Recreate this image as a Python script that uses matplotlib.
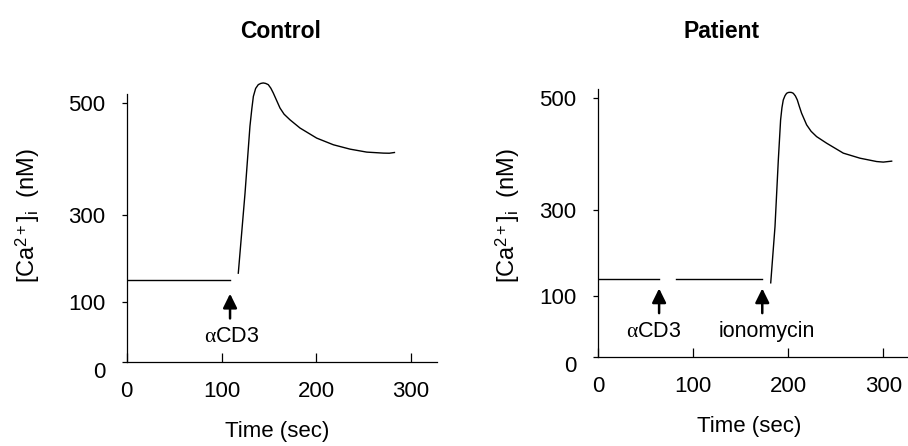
import numpy as np, matplotlib; matplotlib.use('Agg'); import matplotlib.pyplot as plt
from matplotlib.transforms import ScaledTranslation

plt.rcParams['font.family'] = ['Liberation Sans', 'DejaVu Sans']
plt.rcParams['mathtext.fontset'] = 'custom'
plt.rcParams['mathtext.rm'] = 'Liberation Sans'
plt.rcParams['mathtext.it'] = 'Liberation Serif'

# --- data (sec, nM) ---
ctl_base_t = [0, 109]
ctl_base_v = [150.7, 150.7]
ctl_t = [117.7, 124.8, 130.0, 132.0, 133.6, 136.0, 138.8, 141.5, 144.0, 146.5, 149.3, 152.0,
         154.6, 158.0, 161.7, 166.0, 172.2, 182.8, 200.4, 218.0, 235.6, 253.2, 270.8, 277.0, 282.4]
ctl_v = [165.5, 338.9, 458.6, 490.0, 511.8, 526.0, 532.8, 535.0, 535.8, 535.0, 532.8, 526.5,
         517.9, 505.0, 491.0, 480.0, 470.0, 455.3, 437.3, 425.4, 417.6, 412.3, 410.5, 410.3, 411.6]
pat_base1_t = [0, 64.2]
pat_base1_v = [138.8, 138.8]
pat_base2_t = [81.8, 172.6]
pat_base2_v = [138.8, 138.8]
pat_t = [181.5, 186.0, 189.5, 191.9, 193.3, 194.7, 196.5, 198.2, 200.0, 201.7, 203.5, 205.3,
         207.5, 209.5, 211.5, 214.0, 219.3, 224.0, 229.8, 240.3, 257.9, 275.4, 293.0, 300.0, 308.8]
pat_v = [130.9, 261.0, 389.0, 460.3, 482.0, 495.9, 503.5, 507.8, 509.3, 509.6, 509.3, 507.8,
         503.0, 495.9, 485.0, 472.2, 451.5, 440.0, 430.5, 418.8, 401.0, 392.0, 386.0, 385.0, 386.7]
ctl_arrows = [(109, 'αCD3', 111)]
pat_arrows = [(64, 'αCD3', 58), (172.6, 'ionomycin', 177)]
yticks = [0, 100, 300, 500]
xticks = [0, 100, 200, 300]

# non-linear calibrated y axis (tick spacing grows upward)
SV = np.array([0, 100, 300, 500.]); SP = np.array([0, 60.5, 147, 259.])
def fwd(v):
    v = np.asarray(v, float)
    return np.where(v > 500, 259 + (v - 500) * 0.56, np.interp(v, SV, SP))
def inv(p):
    p = np.asarray(p, float)
    return np.where(p > 259, 500 + (p - 259) / 0.56, np.interp(p, SP, SV))

W, H = 908, 446
fig = plt.figure(figsize=(W / 100, H / 100), dpi=100)
axh = float(fwd(560)) / H

def panel(rect, xmax, ytop, zoff):
    ax = fig.add_axes(rect)
    ax.set_yscale('function', functions=(fwd, inv))
    ax.set_xlim(0, xmax); ax.set_ylim(0, 560)
    for s in ('top', 'right'): ax.spines[s].set_visible(False)
    for s in ('left', 'bottom'): ax.spines[s].set_linewidth(0.9)
    ax.spines['left'].set_bounds(0, ytop)
    ax.set_yticks(yticks); ax.set_yticklabels([str(v) for v in yticks])
    ax.set_xticks(xticks); ax.set_xticklabels([str(v) for v in xticks])
    ax.yaxis.set_minor_locator(matplotlib.ticker.NullLocator())
    ax.tick_params(axis='y', direction='out', length=3.6, width=0.9, pad=12, labelsize=16)
    ax.tick_params(axis='x', direction='in', length=6.5, width=0.9, pad=14, labelsize=16)
    lab = ax.get_yticklabels()[0]
    lab.set_transform(lab.get_transform() + ScaledTranslation(0, -zoff / 100, fig.dpi_scale_trans))
    return ax

def arrow(ax, t, txt, tx):
    ax.annotate('', xy=(t, 118), xytext=(t, 72),
                arrowprops=dict(arrowstyle='-|>,head_length=0.85,head_width=0.42', color='k', lw=1.8,
                                shrinkA=0, shrinkB=0))
    ax.text(tx, 42, txt.replace('α', r'$\alpha$'), ha='center', va='center', fontsize=15.5)

ax1 = panel([126.7 / W, 1 - 362 / H, 310.6 / W, axh], 327.6, 516, 8)
ax1.plot(ctl_base_t, ctl_base_v, 'k-', lw=1.0)
ax1.plot(ctl_t, ctl_v, 'k-', lw=1.0, clip_on=False)
for t, txt, tx in ctl_arrows: arrow(ax1, t, txt, tx)

ax2 = panel([598.3 / W, 1 - 356.7 / H, 309.7 / W, axh], 326, 515, 7)
ax2.plot(pat_base1_t, pat_base1_v, 'k-', lw=1.0)
ax2.plot(pat_base2_t, pat_base2_v, 'k-', lw=1.0)
ax2.plot(pat_t, pat_v, 'k-', lw=1.0, clip_on=False)
for t, txt, tx in pat_arrows: arrow(ax2, t, txt, tx)

ylab = r'[Ca$^{\mathrm{2+}}$]$_{\mathrm{i}}$  (nM)'
for ax, lx, ly, bx, by in ((ax1, -0.318, 0.502, 0.486, -0.238), (ax2, -0.292, 0.481, 0.487, -0.239)):
    ax.set_ylabel(ylab, fontsize=17)
    ax.yaxis.set_label_coords(lx, ly); ax.yaxis.label.set_va('center')
    ax.set_xlabel('Time (sec)', fontsize=16)
    ax.xaxis.set_label_coords(bx, by); ax.xaxis.label.set_va('center')

fig.text(281 / W, 1 - 32 / H, 'Control', ha='center', va='center', fontsize=16.5, fontweight='bold')
fig.text(722 / W, 1 - 32 / H, 'Patient', ha='center', va='center', fontsize=16.5, fontweight='bold')

fig.savefig('out.png', dpi=100)
